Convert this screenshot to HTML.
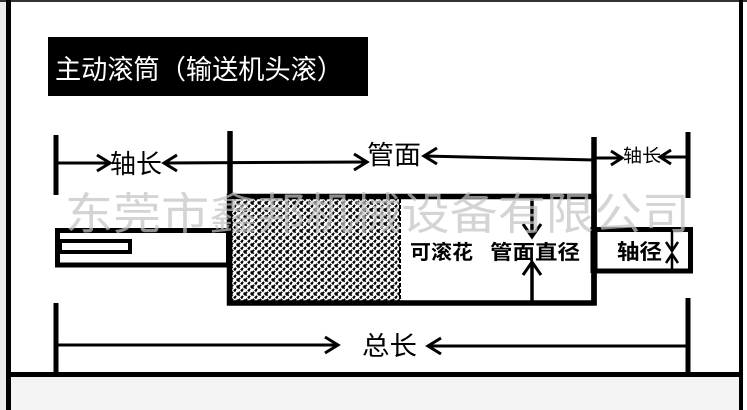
<!DOCTYPE html>
<html><head><meta charset="utf-8"><style>
html,body{margin:0;padding:0;background:#fff;}
svg{display:block;}
text{font-family:"Liberation Sans","Noto Sans CJK SC",sans-serif;}
</style></head><body>
<svg width="747" height="410" viewBox="0 0 747 410" xmlns="http://www.w3.org/2000/svg">
<defs>
<pattern id="hatch" width="7" height="7" patternUnits="userSpaceOnUse">
<rect width="7" height="7" fill="#fff"/>
<path d="M-1,1 L1,-1 M0,7 L7,0 M6,8 L8,6" stroke="#000" stroke-width="1.9" stroke-dasharray="3 1.2"/>
<path d="M-1,6 L1,8 M0,0 L7,7 M6,-1 L8,1" stroke="#000" stroke-width="1.7" stroke-dasharray="2.4 1.6"/>
</pattern>
</defs>
<!-- background frame -->
<rect x="0" y="0" width="747" height="410" fill="#fff"/>
<rect x="0" y="0" width="6" height="410" fill="#ececec"/>
<rect x="11" y="377" width="729" height="33" fill="#f4f4f4"/>
<rect x="0" y="0" width="747" height="2" fill="#333"/>
<rect x="6" y="0" width="5" height="410" fill="#000"/>
<rect x="739" y="0" width="4" height="410" fill="#000"/>
<rect x="6" y="372" width="737" height="5" fill="#000"/>

<!-- title -->
<rect x="48" y="37" width="320" height="59" fill="#000"/>
<text x="55" y="79" font-size="27" fill="#fff" textLength="288" lengthAdjust="spacingAndGlyphs">主动滚筒（输送机头滚）</text>

<g stroke="#000" fill="none" stroke-linecap="butt">
<!-- top dimension -->
<line x1="56" y1="135" x2="56" y2="195" stroke-width="5"/>
<line x1="56" y1="163" x2="109" y2="163" stroke-width="3"/>
<polyline points="97,155 110,163 97,171" stroke-width="3"/>
<line x1="165" y1="163" x2="366" y2="162" stroke-width="3"/>
<polyline points="177,155 164,163 177,171" stroke-width="3"/>
<polyline points="354,154 367,162 354,170" stroke-width="3"/>
<line x1="230" y1="131" x2="230" y2="305" stroke-width="5.5"/>
<line x1="424" y1="156" x2="594" y2="160" stroke-width="3"/>
<polyline points="437,148 424,156 437,164" stroke-width="3"/>
<line x1="594" y1="137" x2="594" y2="305" stroke-width="5.5"/>
<line x1="594" y1="158" x2="621" y2="158" stroke-width="3"/>
<polyline points="611,151 622,158 611,165" stroke-width="3"/>
<line x1="661" y1="157" x2="688" y2="157" stroke-width="3"/>
<polyline points="671,150 660,157 671,164" stroke-width="3"/>
<line x1="688" y1="132" x2="688" y2="198" stroke-width="5"/>
</g>
<text x="110" y="173" font-size="26" fill="#000" textLength="52" lengthAdjust="spacingAndGlyphs">轴长</text>
<text x="367" y="164" font-size="26" fill="#000" textLength="54" lengthAdjust="spacingAndGlyphs">管面</text>
<text x="623" y="162" font-size="18" fill="#000" textLength="38" lengthAdjust="spacingAndGlyphs">轴长</text>

<!-- tube -->
<rect x="232" y="199" width="168" height="102" fill="url(#hatch)"/>
<line x1="400" y1="199" x2="400" y2="301" stroke="#000" stroke-width="2" stroke-dasharray="4 2"/>
<rect x="229.5" y="196.5" width="364.5" height="106.5" fill="none" stroke="#000" stroke-width="5.5"/>

<!-- left shaft -->
<rect x="57.5" y="230.5" width="171" height="34.5" fill="none" stroke="#000" stroke-width="5"/>
<rect x="60" y="241" width="70" height="11" fill="none" stroke="#000" stroke-width="4"/>

<!-- right shaft -->
<rect x="594.5" y="229.5" width="96" height="41.5" fill="none" stroke="#000" stroke-width="5"/>
<line x1="594" y1="227" x2="594" y2="273" stroke="#000" stroke-width="7"/>

<g stroke="#000" fill="none">
<!-- diameter arrows -->
<line x1="532" y1="198" x2="532" y2="236" stroke-width="3.5"/>
<polyline points="523,224 532,237 541,224" stroke-width="3"/>
<line x1="532" y1="263" x2="532" y2="302" stroke-width="3.5"/>
<polyline points="523,275 532,262 541,275" stroke-width="3"/>
<!-- shaft diameter arrows -->
<line x1="672" y1="229" x2="672" y2="250" stroke-width="2.5"/>
<polyline points="666,242 672,251 678,242" stroke-width="2.5"/>
<line x1="672" y1="254" x2="672" y2="271" stroke-width="2.5"/>
<polyline points="666,263 672,254 678,263" stroke-width="2.5"/>
</g>
<text x="410" y="259" font-size="20" font-weight="bold" fill="#000" textLength="63" lengthAdjust="spacingAndGlyphs">可滚花</text>
<text x="490" y="259" font-size="20" font-weight="bold" fill="#000" textLength="90" lengthAdjust="spacingAndGlyphs">管面直径</text>
<text x="617" y="259" font-size="21" font-weight="bold" fill="#000" textLength="45" lengthAdjust="spacingAndGlyphs">轴径</text>

<!-- bottom dimension -->
<g stroke="#000" fill="none">
<line x1="56" y1="303" x2="56" y2="374" stroke-width="5"/>
<line x1="56" y1="345" x2="337" y2="345" stroke-width="3"/>
<polyline points="325,337 338,345 325,353" stroke-width="3"/>
<line x1="429" y1="346" x2="688" y2="346" stroke-width="3"/>
<polyline points="441,338 428,346 441,354" stroke-width="3"/>
<line x1="688" y1="298" x2="688" y2="374" stroke-width="5"/>
</g>
<text x="362" y="355" font-size="26" fill="#000" textLength="55" lengthAdjust="spacingAndGlyphs">总长</text>

<!-- watermark -->
<text x="65" y="229" font-size="44" fill="#c4c4c4" fill-opacity="0.72" textLength="625" lengthAdjust="spacingAndGlyphs">东莞市鑫邦机械设备有限公司</text>
</svg>
</body></html>
